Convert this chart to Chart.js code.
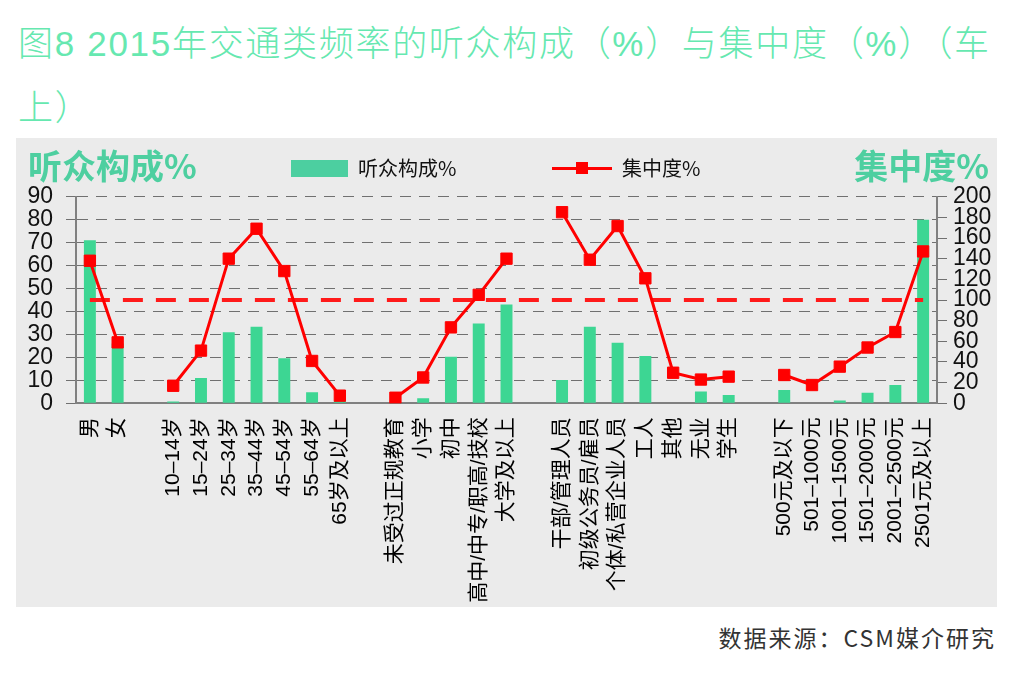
<!DOCTYPE html>
<html>
<head>
<meta charset="utf-8">
<script src="https://cdn.jsdelivr.net/npm/chart.js@4"></script>
<style>
  body { margin: 0; background: #fff; width: 1032px; height: 680px; position: relative; overflow: hidden;
         font-family: "Liberation Sans", "Noto Sans CJK SC", sans-serif; }
  #title { position: absolute; left: 18px; top: 12px; width: 1010px; font-size: 35px; line-height: 64px;
           letter-spacing: 1.7px; color: #66e8b0; font-weight: 300;
           font-family: "Liberation Sans", "Noto Sans CJK SC", sans-serif; white-space: nowrap; }
  #panel { position: absolute; left: 16px; top: 138px; width: 981px; height: 469px; background: #ebebeb; }
  .axisTitle { position: absolute; top: 6px; font-size: 34px; font-weight: bold; color: #4ecfa0;
               font-family: "Noto Sans CJK SC", sans-serif; line-height: 42px; }
  .legendText { position: absolute; top: 17px; font-size: 20px; color: #111; line-height: 26px;
                font-family: "Noto Sans CJK SC", sans-serif; }
  #source { position: absolute; right: 36px; top: 620px; font-size: 23px; color: #333; letter-spacing: 2px;
            font-family: "Noto Sans CJK SC", sans-serif; }
</style>
</head>
<body>
<div id="title">图8 2015年交通类频率的听众构成（%）与集中度（%）（车<br>上）</div>
<div id="panel">
  <canvas id="mixChart"></canvas>
  <div class="axisTitle" style="left:12px;">听众构成%</div>
  <div class="axisTitle" style="right:8px;">集中度%</div>
  <div style="position:absolute;left:275px;top:22px;width:57px;height:17px;background:#4ccfa0;"></div>
  <div class="legendText" style="left:342px;">听众构成%</div>
  <div style="position:absolute;left:536px;top:29px;width:60px;height:3px;background:#ff0000;"></div>
  <div style="position:absolute;left:560px;top:24px;width:12px;height:12px;background:#ff0000;"></div>
  <div class="legendText" style="left:606px;">集中度%</div>
</div>
<div id="source">数据来源：CSM媒介研究</div>
<script>
var categories = ['男', '女', '',
  '10–14岁', '15–24岁', '25–34岁', '35–44岁', '45–54岁', '55–64岁', '65岁及以上', '',
  '未受过正规教育', '小学', '初中', '高中/中专/职高/技校', '大学及以上', '',
  '干部/管理人员', '初级公务员/雇员', '个体/私营企业人员', '工人', '其他', '无业', '学生', '',
  '500元及以下', '501–1000元', '1001–1500元', '1501–2000元', '2001–2500元', '2501元及以上'];

// 听众构成% (left axis)
var composition = [71, 26, null,
  0.8, 11, 31, 33.4, 19.6, 4.8, 1, null,
  0.2, 2.2, 20.3, 34.8, 43, null,
  10.2, 33.4, 26.4, 20.6, 0.2, 5.1, 3.6, null,
  5.8, 0.2, 1.2, 4.6, 8, 80];

// 集中度% (right axis)
var concentration = [138, 59, null,
  17, 51, 140, 169, 128, 41, 7.4, null,
  5.4, 25, 73.5, 105, 140, null,
  185, 139, 171.6, 121, 29.6, 23, 25.8, null,
  27.4, 17.7, 35.5, 54, 69, 147];

// 集中度 = 100 reference
var baseline = [100, 100, 100, 100, 100, 100, 100, 100, 100, 100, 100,
  100, 100, 100, 100, 100, 100, 100, 100, 100, 100, 100, 100, 100, 100,
  100, 100, 100, 100, 100, 100];

var leftTicks = [0, 10, 20, 30, 40, 50, 60, 70, 80, 90];
var rightTicks = [0, 20, 40, 60, 80, 100, 120, 140, 160, 180, 200];

var tickFont = { family: '"Liberation Sans", Arial, sans-serif', size: 23 };

var ctx = document.getElementById('mixChart').getContext('2d');
var mixChart = new Chart(ctx, {
  type: 'bar',
  data: {
    labels: categories,
    datasets: [{
      type: 'line',
      label: '集中度%',
      data: concentration,
      yAxisID: 'y1',
      borderColor: '#ff0000',
      backgroundColor: '#ff0000',
      borderWidth: 3,
      pointStyle: 'rect',
      pointRadius: 8,
      pointBorderWidth: 1,
      spanGaps: false,
      tension: 0,
      order: 1
    }, {
      type: 'line',
      label: 'ref',
      data: baseline,
      yAxisID: 'y1',
      borderColor: '#ff1a1a',
      borderWidth: 4,
      borderDash: [20, 13],
      pointRadius: 0,
      order: 2
    }, {
      type: 'bar',
      label: '听众构成%',
      data: composition,
      yAxisID: 'y',
      backgroundColor: '#3dd693',
      barPercentage: 0.43,
      categoryPercentage: 1,
      order: 3
    }]
  },
  options: {
    responsive: true,
    maintainAspectRatio: false,
    animation: false,
    layout: { padding: { top: 58.7, bottom: 0, left: 0, right: 0 } },
    plugins: {
      legend: { display: false },
      tooltip: { enabled: false }
    },
    scales: {
      x: {
        offset: true,
        grid: { display: false, drawTicks: false },
        border: { display: true, color: '#808080', width: 2 },
        ticks: {
          autoSkip: false,
          minRotation: 90,
          maxRotation: 90,
          padding: 14,
          color: '#000',
          font: { family: '"Liberation Sans", "Noto Sans CJK SC", sans-serif', size: 21 }
        },
        afterFit: function(scale) { scale.height = 203.7; }
      },
      y: {
        position: 'left',
        min: 0,
        max: 90,
        afterBuildTicks: function(scale) {
          scale.ticks = leftTicks.map(function(v) { return { value: v }; });
        },
        grid: { color: '#707070', lineWidth: 1, tickLength: 10, tickColor: '#707070' },
        border: { display: true, color: '#808080', width: 2, dash: [11, 8] },
        ticks: { autoSkip: false, color: '#111', padding: 13, font: tickFont },
        afterFit: function(scale) { scale.width = 60; }
      },
      y1: {
        position: 'right',
        min: 0,
        max: 200,
        afterBuildTicks: function(scale) {
          scale.ticks = rightTicks.map(function(v) { return { value: v }; });
        },
        grid: { drawOnChartArea: false, color: '#707070', tickLength: 10 },
        border: { display: true, color: '#808080', width: 2 },
        ticks: { autoSkip: false, color: '#111', padding: 6, font: tickFont },
        afterFit: function(scale) { scale.width = 60; }
      }
    }
  }
});
</script>
</body>
</html>
